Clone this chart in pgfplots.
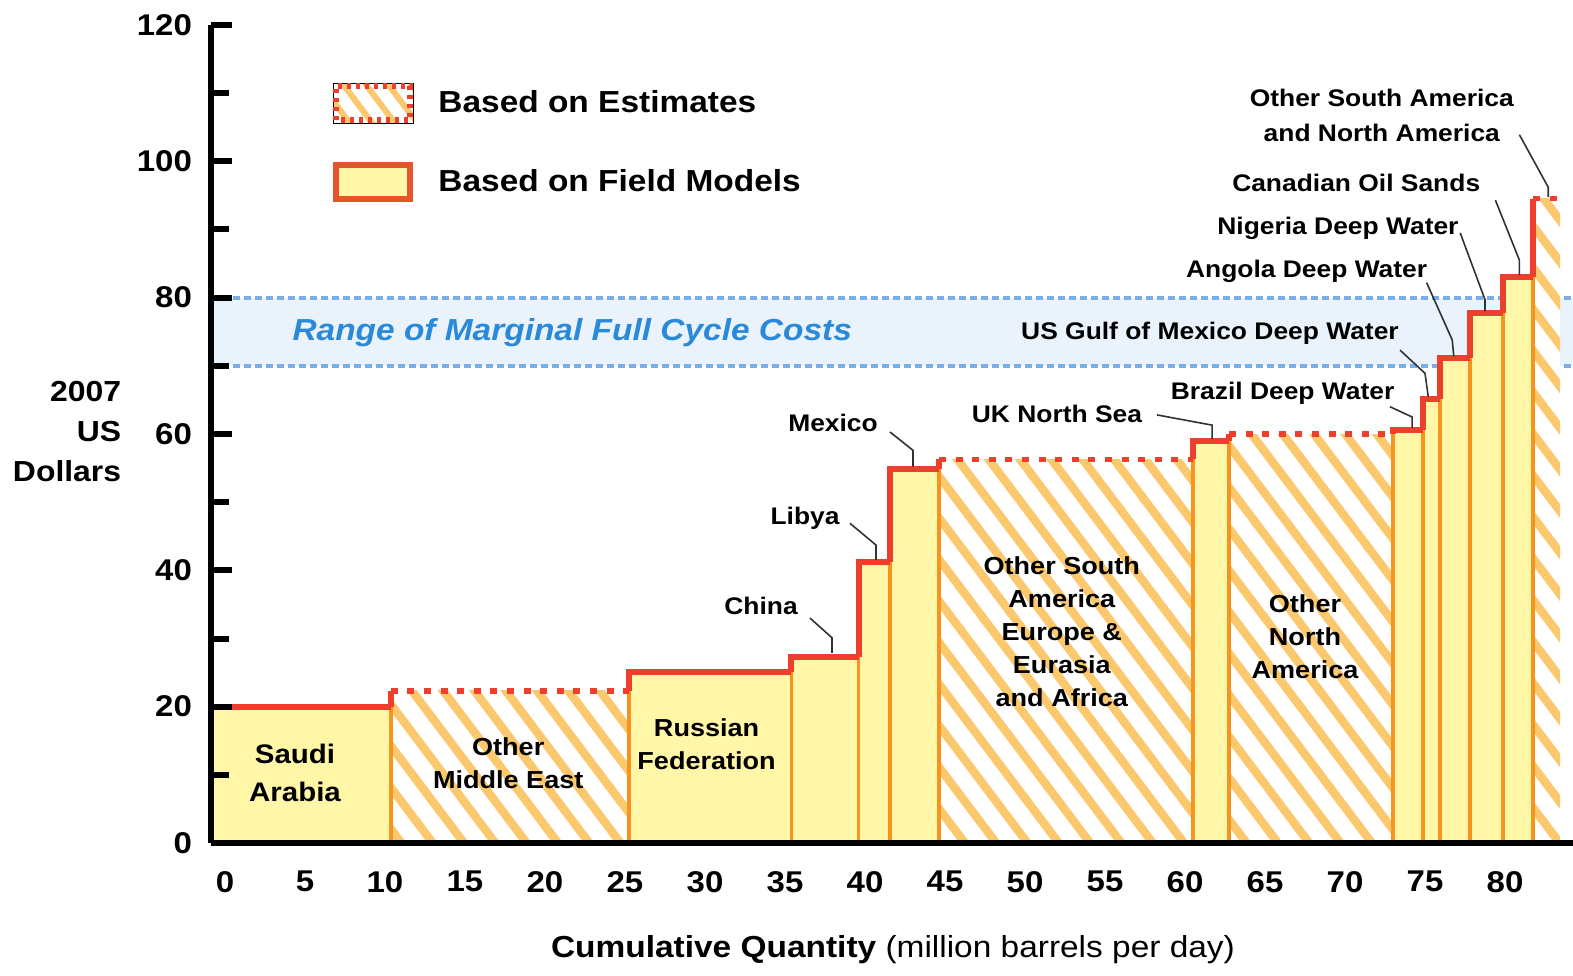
\documentclass[border=0pt]{standalone}
\usepackage{fontspec}
\setmainfont{Liberation Sans}[FakeStretch=1.1]
\usepackage{pgfplots}
\pgfplotsset{compat=1.18}
\usetikzlibrary{patterns.meta}
\definecolor{fillyel}{RGB}{255,246,168}
\definecolor{edgeor}{RGB}{247,148,30}
\definecolor{topred}{RGB}{238,62,44}
\definecolor{stripe}{RGB}{251,200,110}
\definecolor{bandfill}{RGB}{234,242,251}
\definecolor{banddash}{RGB}{122,174,230}
\definecolor{bluetext}{RGB}{42,138,217}
\definecolor{legred}{RGB}{232,83,43}
\definecolor{leader}{RGB}{50,50,50}
\tikzset{hatch/.style={pattern={Lines[angle=-53,distance=12.5pt,line width=4.2pt]}, pattern color=stripe}}
% field-model block fill: x0, x1, h
\newcommand\fillF[3]{\addplot[forget plot, draw=none, fill=fillyel] coordinates {(#1,0) (#1,#3) (#2,#3) (#2,0)} -- cycle;}
% estimate block fill
\newcommand\fillE[3]{\addplot[forget plot, draw=none, fill=white] coordinates {(#1,0) (#1,#3) (#2,#3) (#2,0)} -- cycle;
 \addplot[forget plot, draw=none, hatch] coordinates {(#1,0) (#1,#3) (#2,#3) (#2,0)} -- cycle;}
\newcommand\edge[2]{\addplot[forget plot, edgeor, line width=1.8pt] coordinates {(#1,0) (#1,#2)};}
% tops: x0, x1, h, hprev
\newcommand\topF[4]{\addplot[forget plot, topred, line width=3pt, line join=miter] coordinates {(#1,#4) (#1,#3) (#2,#3)};}
\newcommand\topE[4]{\addplot[forget plot, topred, line width=3pt] coordinates {(#1,#4) (#1,#3)};
 \addplot[forget plot, topred, line width=2.6pt, dash pattern=on 3.5pt off 4.8pt] coordinates {(#1,#3) (#2,#3)};}
\newcommand\ann{\bfseries\fontsize{12}{17.5}\selectfont}
\newcommand\lab{\bfseries\fontsize{12.3}{16.5}\selectfont}
\begin{document}
\begin{tikzpicture}
\begin{axis}[name=ax, at={(0,0)}, anchor=south west,
  scale only axis, width=681pt, height=409pt,
  xmin=-0.875, xmax=84.25, ymin=0, ymax=120,
  axis x line*=bottom, axis y line*=left,
  axis line style={line width=3pt, black, -},
  clip=false, axis on top,
  xtick={0,5,...,80}, ytick={0,20,...,120}, minor ytick={10,30,...,110},
  tick align=inside, major tick length=10.5pt, minor tick length=9pt,
  xtick style={draw=none},
  ytick style={black, line width=3pt},
  minor tick style={black, line width=3pt},
  /pgf/number format/assume math mode=true,
  ticklabel style={font=\bfseries\fontsize{15}{15}\selectfont},
  xticklabel style={yshift=-10.6pt},
  yticklabel style={xshift=-6pt},
  legend style={at={(0.0874,0.9328)}, anchor=north west, draw=none, fill=none,
    inner sep=0pt, row sep=18pt, font=\bfseries\fontsize{15.2}{15.2}\selectfont,
    nodes={inner sep=0pt},
    /tikz/every odd column/.append style={column sep=11pt}},
  legend cell align=left,
]
\addlegendimage{legend image code/.code={
  \fill[white] (0pt,-10pt) rectangle (40pt,10pt);
  \fill[pattern={Lines[angle=-53,distance=9pt,line width=3pt]}, pattern color=stripe] (0pt,-10pt) rectangle (40pt,10pt);
  \draw[topred, line width=3pt, dash pattern=on 2pt off 2.5pt] (1.5pt,-8.5pt) rectangle (38.5pt,8.5pt);}}
\addlegendentry{Based on Estimates}
\addlegendimage{legend image code/.code={
  \draw[legred, fill=fillyel, line width=3pt] (1.5pt,-8.5pt) rectangle (38.5pt,8.5pt);}}
\addlegendentry{Based on Field Models}

% range of marginal full cycle costs
\addplot[forget plot, draw=none, fill=bandfill] coordinates {(-0.875,70) (84.25,70) (84.25,80) (-0.875,80)} -- cycle;
\addplot[forget plot, banddash, line width=2pt, dash pattern=on 3.5pt off 2pt] coordinates {(-0.875,80) (84.25,80)};
\addplot[forget plot, banddash, line width=2pt, dash pattern=on 3.5pt off 2pt] coordinates {(-0.875,70) (84.25,70)};

% block fills
\fillF{-0.875}{10.36}{20}
\fillE{10.36}{25.25}{22.3}
\fillF{25.25}{35.4}{25.1}
\fillF{35.4}{39.6}{27.3}
\fillF{39.6}{41.56}{41.2}
\fillF{41.56}{44.63}{54.9}
\fillE{44.63}{60.5}{56.3}
\fillF{60.5}{62.75}{59.0}
\fillE{62.75}{73.0}{60.0}
\fillF{73.0}{74.875}{60.6}
\fillF{74.875}{75.94}{65.2}
\fillF{75.94}{77.81}{71.1}
\fillF{77.81}{79.875}{77.7}
\fillF{79.875}{81.75}{83.0}
\fillE{81.75}{83.44}{94.5}

% orange edges
\edge{10.36}{22.3}
\edge{25.25}{25.1}
\edge{35.4}{27.3}
\edge{39.6}{41.2}
\edge{41.56}{54.9}
\edge{44.63}{56.3}
\edge{60.5}{59.0}
\edge{62.75}{60.0}
\edge{73.0}{60.6}
\edge{74.875}{65.2}
\edge{75.94}{71.1}
\edge{77.81}{77.7}
\edge{79.875}{83.0}
\edge{81.75}{94.5}

% red tops
\topF{-0.875}{10.36}{20}{20}
\topE{10.36}{25.25}{22.3}{20}
\topF{25.25}{35.4}{25.1}{22.3}
\topF{35.4}{39.6}{27.3}{25.1}
\topF{39.6}{41.56}{41.2}{27.3}
\topF{41.56}{44.63}{54.9}{41.2}
\topE{44.63}{60.5}{56.3}{54.9}
\topF{60.5}{62.75}{59.0}{56.3}
\topE{62.75}{73.0}{60.0}{59.0}
\topF{73.0}{74.875}{60.6}{60.0}
\topF{74.875}{75.94}{65.2}{60.6}
\topF{75.94}{77.81}{71.1}{65.2}
\topF{77.81}{79.875}{77.7}{71.1}
\topF{79.875}{81.75}{83.0}{77.7}
\topE{81.75}{83.44}{94.5}{83.0}

% in-block labels
\node[font=\bfseries\fontsize{13.4}{19}\selectfont, align=center] at (axis cs:4.375,10.3) {Saudi\\Arabia};
\node[font=\lab, align=center] at (axis cs:17.7,11.7) {Other\\Middle East};
\node[font=\lab, align=center] at (axis cs:30.1,14.5) {Russian\\Federation};
\node[font=\lab, align=center] at (axis cs:52.3,31.0) {Other South\\America\\Europe \&\\Eurasia\\and Africa};
\node[font=\lab, align=center] at (axis cs:67.5,30.2) {Other\\North\\America};

% band text
\node[font=\bfseries\itshape\fontsize{15.2}{15}\selectfont, text=bluetext] at (axis cs:21.7,74.8) {Range of Marginal Full Cycle Costs};

% annotations with leaders
\node[font=\ann] at (axis cs:33.5,34.8) {China};
\draw[leader, line width=0.8pt] (axis cs:36.56,33.0) -- (axis cs:37.94,30.1) -- (axis cs:37.94,27.9);
\node[font=\ann] at (axis cs:36.25,47.7) {Libya};
\draw[leader, line width=0.8pt] (axis cs:39.06,46.9) -- (axis cs:40.69,43.7) -- (axis cs:40.69,41.5);
\node[font=\ann] at (axis cs:38.0,61.6) {Mexico};
\draw[leader, line width=0.8pt] (axis cs:41.56,60.3) -- (axis cs:43.0,57.6) -- (axis cs:43.0,55.2);
\node[font=\ann] at (axis cs:52.0,62.9) {UK North Sea};
\draw[leader, line width=0.8pt] (axis cs:58.25,62.8) -- (axis cs:61.69,61.3) -- (axis cs:61.69,59.3);
\node[font=\ann] at (axis cs:66.1,66.0) {Brazil Deep Water};
\draw[leader, line width=0.8pt] (axis cs:72.81,64.0) -- (axis cs:74.19,62.5) -- (axis cs:74.19,60.9);
\node[font=\ann] at (axis cs:61.56,74.7) {US Gulf of Mexico Deep Water};
\draw[leader, line width=0.8pt] (axis cs:73.44,72.3) -- (axis cs:75.0,68.9) -- (axis cs:75.2,65.5);
\node[font=\ann] at (axis cs:67.6,83.8) {Angola Deep Water};
\draw[leader, line width=0.8pt] (axis cs:75.1,82.2) -- (axis cs:76.7,73.8) -- (axis cs:76.8,71.4);
\node[font=\ann] at (axis cs:69.56,90.1) {Nigeria Deep Water};
\draw[leader, line width=0.8pt] (axis cs:77.2,89.5) -- (axis cs:78.75,79.7) -- (axis cs:78.75,78.0);
\node[font=\ann] at (axis cs:70.7,96.8) {Canadian Oil Sands};
\draw[leader, line width=0.8pt] (axis cs:79.4,94.3) -- (axis cs:80.9,85.5) -- (axis cs:80.9,83.3);
\node[font=\ann, align=center] at (axis cs:72.3,106.8) {Other South America\\and North America};
\draw[leader, line width=0.8pt] (axis cs:80.9,103.9) -- (axis cs:82.7,96.2) -- (axis cs:82.7,94.8);

% axis titles
\node[font=\bfseries\fontsize{14.5}{20}\selectfont, align=right, anchor=east] at (axis cs:-6.05,60.3) {2007\\US\\Dollars};
\node[font=\fontsize{15.2}{15}\selectfont] at (axis cs:41.75,-15.7) {\textbf{Cumulative Quantity} (million barrels per day)};
\end{axis}
\pgfresetboundingbox
\path ([shift={(-105.5pt,-66pt)}]ax.south west) rectangle ++(786.5pt,487.5pt);
\end{tikzpicture}
\end{document}
